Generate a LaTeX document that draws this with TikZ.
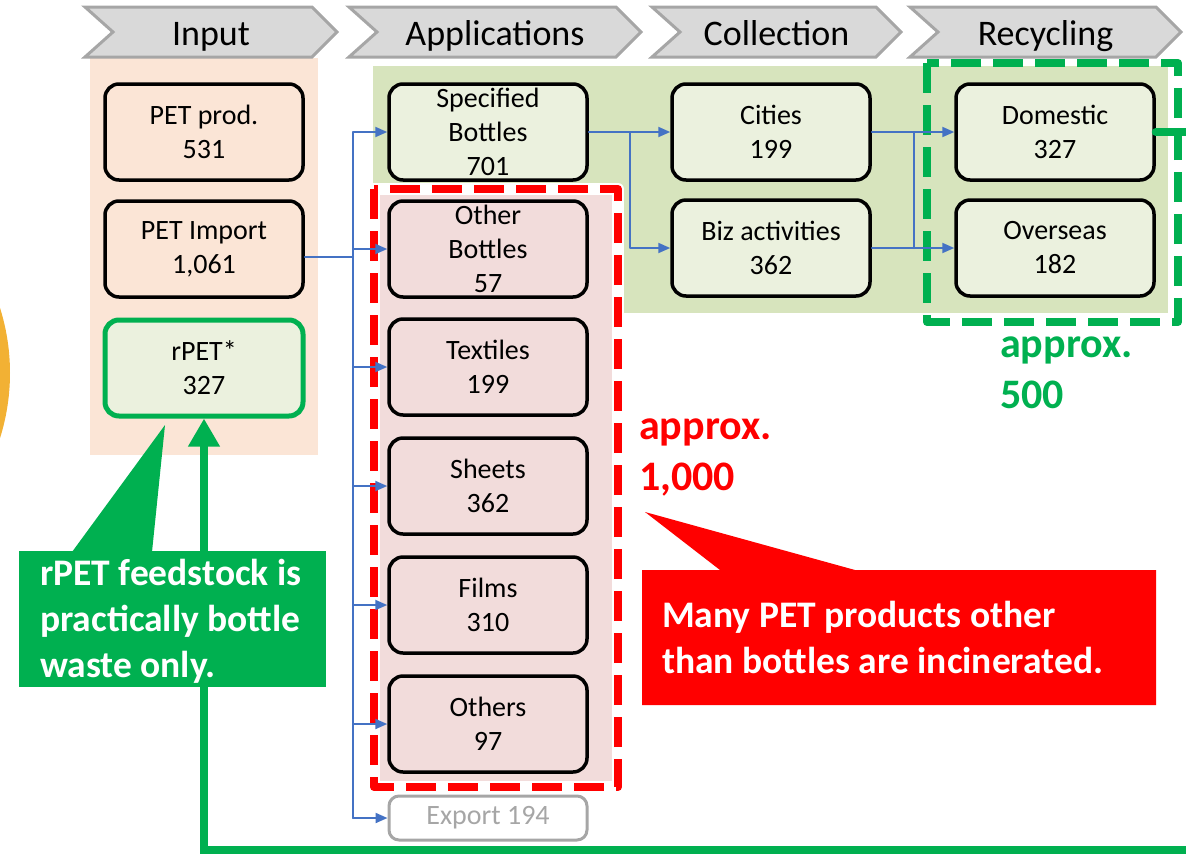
\documentclass[tikz,border=0pt]{standalone}
\usepackage{fontspec}
\setmainfont{Carlito}
\usetikzlibrary{arrows.meta}
\definecolor{bleu}{HTML}{4472C4}
\definecolor{vert}{HTML}{00B050}
\definecolor{rouge}{HTML}{FF0000}
\definecolor{gris}{HTML}{A6A6A6}
\definecolor{grisclair}{HTML}{D9D9D9}
\definecolor{saumon}{HTML}{FBE5D6}
\definecolor{vertpale}{HTML}{EBF1DE}
\definecolor{vertfond}{HTML}{D7E4BD}
\definecolor{rose}{HTML}{F2DCDB}
\definecolor{ambre}{HTML}{F2B134}

\begin{document}
\begin{tikzpicture}[line cap=round,line join=round,>={Triangle[length=12pt,width=10pt]},x=1pt,y=-1pt,
	boite/.style={draw=black,line width=3.5pt,rounded corners=14pt,minimum width=198pt,minimum height=96pt,inner sep=0pt,align=center,text=black,font=\fontsize{28}{34}\selectfont},
	entete/.style={fill=grisclair,draw=gris,line width=3pt,line join=miter},
	flux/.style={draw=bleu,line width=2pt},
	pointille/.style={line width=8pt,line cap=butt,dash pattern=on 30pt off 12pt},
	bulle/.style={font=\fontsize{37.5}{46}\selectfont\bfseries,text=white,align=left,inner sep=0pt,anchor=north west},
	chiffre/.style={font=\fontsize{42}{50}\selectfont\bfseries,inner sep=0pt,anchor=base west}]
		\useasboundingbox (0,0) rectangle (1186,855);
		% fonds
		\fill[ambre] (-206,373) circle (216);
		\fill[saumon] (90,58) rectangle (318,455);
		\fill[vertfond] (373,66) rectangle (1168,313);
		% entetes
		\foreach \xa/\xb/\titre/\nom in {85/337/Input/tin,349/641/Applications/tapp,652/901/Collection/tcol,910/1181/Recycling/trec}{
			\draw[entete] (\xa,7)--(\xb-25,7)--(\xb,32)--(\xb-25,57)--(\xa,57)--(\xa+28,32)--cycle;
			\node[anchor=base,inner sep=0pt,font=\fontsize{36}{40}\selectfont] (\nom) at ({(\xa+\xb)/2},45) {\titre};
		}
		% zones
		\fill[rose] (374,189) rectangle (618,787);
		\draw[white,line width=12pt] (374,189) rectangle (618,787);
		\draw[pointille,rouge] (374,189) rectangle (618,787);
		\draw[pointille,vert] (927,63) rectangle (1178,322);
		% Input
		\node[boite,fill=saumon] (prod) at (204,132) {PET prod.\\531};
		\node[boite,fill=saumon] (import) at (204,249) {PET Import\\1,061};
		\node[boite,fill=vertpale,draw=vert,line width=5pt] (rpet) at (204,368) {rPET*\\327};
		% Applications
		\node[boite,fill=vertpale] (spec) at (488,132) {Specified\\Bottles\\701};
		\node[boite,fill=rose] (autre) at (488,249) {Other\\Bottles\\57};
		\node[boite,fill=rose] (textile) at (488,367) {Textiles\\199};
		\node[boite,fill=rose] (feuille) at (488,486) {Sheets\\362};
		\node[boite,fill=rose] (film) at (488,605) {Films\\310};
		\node[boite,fill=rose] (divers) at (488,724) {Others\\97};
		\node[boite,draw=gris,text=gris,line width=3pt,minimum height=44pt,rounded corners=10pt,font=\fontsize{28}{30}\selectfont] (export) at (488,818) {Export 194};
		% Collection
		\node[boite,fill=vertpale] (ville) at (771,132) {Cities\\199};
		\node[boite,fill=vertpale] (biz) at (771,248) {Biz activities\\362};
		% Recycling
		\node[boite,fill=vertpale] (dom) at (1055,132) {Domestic\\327};
		\node[boite,fill=vertpale] (etr) at (1055,248) {Overseas\\182};
		% flux
		\coordinate (tronc) at (353,257);
		\coordinate (j1) at (630,132);
		\coordinate (j2) at (914,132);
		\draw[flux] ([yshift=-8pt]import.east) -- (tronc);
		\draw[flux] (spec.west -| tronc) -- (export.west -| tronc);
		\foreach \b in {spec,autre,textile,feuille,film,divers,export}
			\draw[flux,->] (\b.west -| tronc) -- (\b.west);
		\draw[flux,->] (spec.east) -- (ville.west);
		\draw[flux,->] (j1) |- (biz.west);
		\draw[flux,->] (ville.east) -- (dom.west);
		\draw[flux,->] (biz.east) -- (etr.west);
		\draw[flux] (j2) -- (j2 |- biz.east);
		% retour rPET
		\coordinate (r1) at (1200,132);
		\coordinate (r2) at (1200,850);
		\coordinate (r3) at (204,850);
		\draw[vert,line width=8pt,line join=miter,-{Triangle[length=28pt,width=30pt]}] (dom.east) -- (r1) -- (r2) -- (r3) -- (rpet.south);
		% bulles
		\fill[vert] (19,551) rectangle (326,687);
		\fill[vert] (72,552) -- (165,425) -- (152,552) -- cycle;
		\node[bulle] (gmsg) at (40,559) {rPET feedstock is\\practically bottle\\waste only.};
		\fill[rouge] (642,570) -- (720,570) -- (645,512) -- (855,570) -- (1156,570) -- (1156,705) -- (642,705) -- cycle;
		\node[bulle] (rmsg) at (662,601) {Many PET products other\\than bottles are incinerated.};
		\node[chiffre,text=rouge] (rapp) at (639,439) {approx.};
		\node[chiffre,text=rouge] (rnum) at (639,490) {1,000};
		\node[chiffre,text=vert] (vapp) at (1000,357) {approx.};
		\node[chiffre,text=vert] (vnum) at (1000,408) {500};
		\end{tikzpicture}
\end{document}
